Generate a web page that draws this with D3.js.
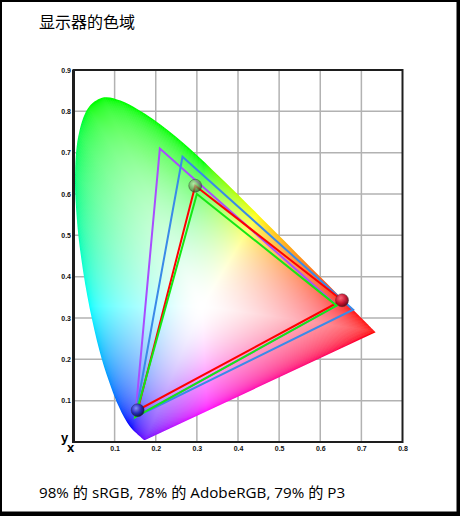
<!DOCTYPE html>
<html>
<head>
<meta charset="utf-8">
<script src="https://cdn.jsdelivr.net/npm/d3@7"></script>
<style>
  html, body { margin: 0; padding: 0; background: #fff; }
  svg { display: block; }
</style>
</head>
<body>
<div id="chart"></div>
<script>
// CIE 1931 2° spectral locus, 380-700nm every 5nm
const locus = [
  [0.1741, 0.0050], [0.1740, 0.0050], [0.1738, 0.0049], [0.1736, 0.0049], [0.1733, 0.0048],
  [0.1730, 0.0048], [0.1726, 0.0048], [0.1721, 0.0048], [0.1714, 0.0051], [0.1703, 0.0058],
  [0.1689, 0.0069], [0.1669, 0.0086], [0.1644, 0.0109], [0.1611, 0.0138], [0.1566, 0.0177],
  [0.1510, 0.0227], [0.1440, 0.0297], [0.1355, 0.0399], [0.1241, 0.0578], [0.1096, 0.0868],
  [0.0913, 0.1327], [0.0687, 0.2007], [0.0454, 0.2950], [0.0235, 0.4127], [0.0082, 0.5384],
  [0.0039, 0.6548], [0.0139, 0.7502], [0.0389, 0.8120], [0.0743, 0.8338], [0.1142, 0.8262],
  [0.1547, 0.8059], [0.1929, 0.7816], [0.2296, 0.7543], [0.2658, 0.7243], [0.3016, 0.6923],
  [0.3373, 0.6589], [0.3731, 0.6245], [0.4087, 0.5896], [0.4441, 0.5547], [0.4788, 0.5202],
  [0.5125, 0.4866], [0.5448, 0.4544], [0.5752, 0.4242], [0.6029, 0.3965], [0.6270, 0.3725],
  [0.6482, 0.3514], [0.6658, 0.3340], [0.6801, 0.3197], [0.6915, 0.3083], [0.7006, 0.2993],
  [0.7079, 0.2920], [0.7140, 0.2859], [0.7190, 0.2809], [0.7230, 0.2770], [0.7260, 0.2740],
  [0.7283, 0.2717], [0.7300, 0.2700], [0.7311, 0.2689], [0.7320, 0.2680], [0.7327, 0.2673],
  [0.7334, 0.2666], [0.7340, 0.2660], [0.7344, 0.2656], [0.7346, 0.2654], [0.7347, 0.2653]
]
const whitePoint = [0.3127, 0.3290]

// gamut triangles: red, green, blue primaries (x, y)
const adobeRGB = [[0.64, 0.33], [0.21, 0.71], [0.15, 0.06]]
const p3 = [[0.68, 0.32], [0.265, 0.69], [0.15, 0.06]]
const sRGB = [[0.64, 0.33], [0.30, 0.60], [0.15, 0.06]]
const display = [[0.653, 0.343], [0.296, 0.620], [0.156, 0.077]]

const xTicks = [0.1, 0.2, 0.3, 0.4, 0.5, 0.6, 0.7, 0.8]
const yTicks = [0.1, 0.2, 0.3, 0.4, 0.5, 0.6, 0.7, 0.8, 0.9]

const title = '显示器的色域'
const caption = '98% 的 sRGB, 78% 的 AdobeRGB, 79% 的 P3'

const W = 460, H = 516
const xScale = d3.scaleLinear().domain([0, 0.8]).range([73.5, 402.5])
const yScale = d3.scaleLinear().domain([0, 0.9]).range([442, 70])

let svg = d3.select('#chart').append('svg')
    .attr('width', W)
    .attr('height', H)

// outer frame
svg.append('rect').attr('x', 0).attr('y', 0).attr('width', W).attr('height', H).attr('fill', '#000')
svg.append('rect').attr('x', 2).attr('y', 2).attr('width', 454.5).attr('height', 509.5).attr('fill', '#fff')

svg.append('text')
    .attr('x', 39)
    .attr('y', 27.5)
    .attr('font-family', '"Noto Sans CJK SC", sans-serif')
    .attr('font-size', '16px')
    .attr('fill', '#000')
    .text(title)

svg.append('text')
    .attr('x', 39)
    .attr('y', 497.5)
    .attr('font-family', '"Open Sans", "Noto Sans CJK SC", sans-serif')
    .attr('font-size', '15.2px')
    .attr('fill', '#000')
    .text(caption)

// grid
let grid = svg.append('g').attr('stroke', '#b2b2b2').attr('stroke-width', 1.5)
grid.selectAll('.vgrid').data(xTicks.slice(0, -1)).enter().append('line')
    .attr('x1', d => xScale(d)).attr('x2', d => xScale(d))
    .attr('y1', yScale(0)).attr('y2', yScale(0.9))
grid.selectAll('.hgrid').data(yTicks.slice(0, -1)).enter().append('line')
    .attr('x1', xScale(0)).attr('x2', xScale(0.8))
    .attr('y1', d => yScale(d)).attr('y2', d => yScale(d))

// distance from white point to the locus edge, per angle
const nBins = 720
let edgeDist = d3.range(nBins).map(function(k) {
    let a = k / nBins * 2 * Math.PI
    let dx = Math.cos(a), dy = Math.sin(a)
    let best = Infinity
    for (let i = 0; i < locus.length; i++) {
        let p = locus[i], q = locus[(i + 1) % locus.length]
        let ex = q[0] - p[0], ey = q[1] - p[1]
        let den = dx * ey - dy * ex
        if (Math.abs(den) < 1e-12) continue
        let wx = p[0] - whitePoint[0], wy = p[1] - whitePoint[1]
        let t = (wx * ey - wy * ex) / den
        let u = (wx * dy - wy * dx) / den
        if (t > 0 && u >= 0 && u <= 1 && t < best) best = t
    }
    return best
})

function gammaEncode(v) {
    v = Math.min(1, Math.max(0, v))
    return v <= 0.0031308 ? 12.92 * v : 1.055 * Math.pow(v, 1 / 2.4) - 0.055
}

// chromaticity colour, washed towards white near the white point
function chromaColor(cx, cy) {
    if (cy <= 0.001) cy = 0.001
    let X = cx / cy, Y = 1, Z = (1 - cx - cy) / cy
    let r = 3.2406 * X - 1.5372 * Y - 0.4986 * Z
    let g = -0.9689 * X + 1.8758 * Y + 0.0415 * Z
    let b = 0.0557 * X - 0.2040 * Y + 1.0570 * Z
    r = Math.max(r, 0); g = Math.max(g, 0); b = Math.max(b, 0)
    let m = Math.max(r, g, b) || 1
    r /= m; g /= m; b /= m
    let dx = cx - whitePoint[0], dy = cy - whitePoint[1]
    let a = Math.atan2(dy, dx)
    if (a < 0) a += 2 * Math.PI
    let f = Math.min(1, Math.hypot(dx, dy) / edgeDist[Math.floor(a / (2 * Math.PI) * nBins) % nBins])
    let t = Math.pow(f, 0.9)
    return [r, g, b].map(v => Math.round(gammaEncode(v * t + (1 - t)) * 255))
}

let x0 = Math.floor(xScale(0)), y0 = Math.floor(yScale(0.9))
let cw = Math.ceil(xScale(0.8)) - x0, ch = Math.ceil(yScale(0)) - y0
let canvas = document.createElement('canvas')
canvas.width = cw
canvas.height = ch
let ctx = canvas.getContext('2d')
let img = ctx.createImageData(cw, ch)
for (let j = 0; j < ch; j++) {
    for (let i = 0; i < cw; i++) {
        let c = chromaColor(xScale.invert(x0 + i + 0.5), yScale.invert(y0 + j + 0.5))
        let k = (j * cw + i) * 4
        img.data[k] = c[0]; img.data[k + 1] = c[1]; img.data[k + 2] = c[2]; img.data[k + 3] = 255
    }
}
ctx.putImageData(img, 0, 0)

// smooth spectral curve, straight line of purples back to the start
let locusLine = d3.line().x(d => xScale(d[0])).y(d => yScale(d[1])).curve(d3.curveCatmullRom.alpha(0.5))
svg.append('clipPath').attr('id', 'locus-clip')
    .append('path').attr('d', locusLine(locus) + 'Z')

svg.append('image')
    .attr('x', x0).attr('y', y0)
    .attr('width', cw).attr('height', ch)
    .attr('preserveAspectRatio', 'none')
    .attr('href', canvas.toDataURL())
    .attr('clip-path', 'url(#locus-clip)')

// axes frame
svg.append('rect')
    .attr('x', xScale(0)).attr('y', yScale(0.9))
    .attr('width', xScale(0.8) - xScale(0)).attr('height', yScale(0) - yScale(0.9))
    .attr('fill', 'none').attr('stroke', '#1e1e1e').attr('stroke-width', 2)
svg.append('line')
    .attr('x1', xScale(0)).attr('x2', xScale(0))
    .attr('y1', yScale(0.9)).attr('y2', yScale(0) + 1)
    .attr('stroke', '#1e1e1e').attr('stroke-width', 3)

svg.append('g')
    .attr('transform', `translate(${xScale(0) - 1},0)`)
    .call(d3.axisLeft(yScale).tickValues(yTicks).tickSize(0).tickPadding(1.5).tickFormat(d3.format('.1f')))
svg.append('g')
    .attr('transform', `translate(0,${yScale(0) + 1})`)
    .call(d3.axisBottom(xScale).tickValues(xTicks).tickSize(0).tickPadding(3).tickFormat(d3.format('.1f')))
svg.selectAll('.domain').remove()
svg.selectAll('.tick text')
    .attr('font-family', '"Liberation Sans", Arial, sans-serif')
    .attr('font-size', '7px')
    .attr('font-weight', 'bold')
    .attr('fill', '#111')

svg.append('text').attr('x', 61).attr('y', 442)
    .attr('font-family', '"Liberation Sans", Arial, sans-serif').attr('font-size', '13px').attr('font-weight', 'bold')
    .text('y')
svg.append('text').attr('x', 67).attr('y', 452)
    .attr('font-family', '"Liberation Sans", Arial, sans-serif').attr('font-size', '13px').attr('font-weight', 'bold')
    .text('x')

// gamut triangles
let triangle = d3.line().x(d => xScale(d[0])).y(d => yScale(d[1])).curve(d3.curveLinearClosed)
let gamuts = [
    {pts: adobeRGB, color: '#a84dff'},
    {pts: p3, color: '#3a8ae8'},
    {pts: display, color: '#ff0000'},
    {pts: sRGB, color: '#14e814'}
]
svg.selectAll('.gamut').data(gamuts).enter().append('path')
    .attr('class', 'gamut')
    .attr('d', d => triangle(d.pts))
    .attr('fill', 'none')
    .attr('stroke', d => d.color)
    .attr('stroke-width', 2)
    .attr('stroke-linejoin', 'miter')

// measured primaries as little spheres
let defs = svg.append('defs')
let ballColors = [
    {id: 'ball-r', light: '#ff6a7a', base: '#c8102e', dark: '#5a0010'},
    {id: 'ball-g', light: '#c4e4b4', base: '#6c9e5a', dark: '#2c4424'},
    {id: 'ball-b', light: '#8a8cff', base: '#2626b8', dark: '#0a0a40'}
]
ballColors.forEach(function(c) {
    let grad = defs.append('radialGradient').attr('id', c.id)
        .attr('cx', '38%').attr('cy', '35%').attr('r', '70%')
    grad.append('stop').attr('offset', '0%').attr('stop-color', c.light)
    grad.append('stop').attr('offset', '55%').attr('stop-color', c.base)
    grad.append('stop').attr('offset', '100%').attr('stop-color', c.dark)
})
svg.selectAll('.ball').data(display).enter().append('circle')
    .attr('class', 'ball')
    .attr('cx', d => xScale(d[0]))
    .attr('cy', d => yScale(d[1]))
    .attr('r', 6.5)
    .attr('fill', (d, i) => `url(#${ballColors[i].id})`)
    .attr('fill-opacity', (d, i) => i === 1 ? 0.75 : 0.95)
    .attr('stroke', '#333')
    .attr('stroke-opacity', 0.5)
    .attr('stroke-width', 0.8)
</script>
</body>
</html>
